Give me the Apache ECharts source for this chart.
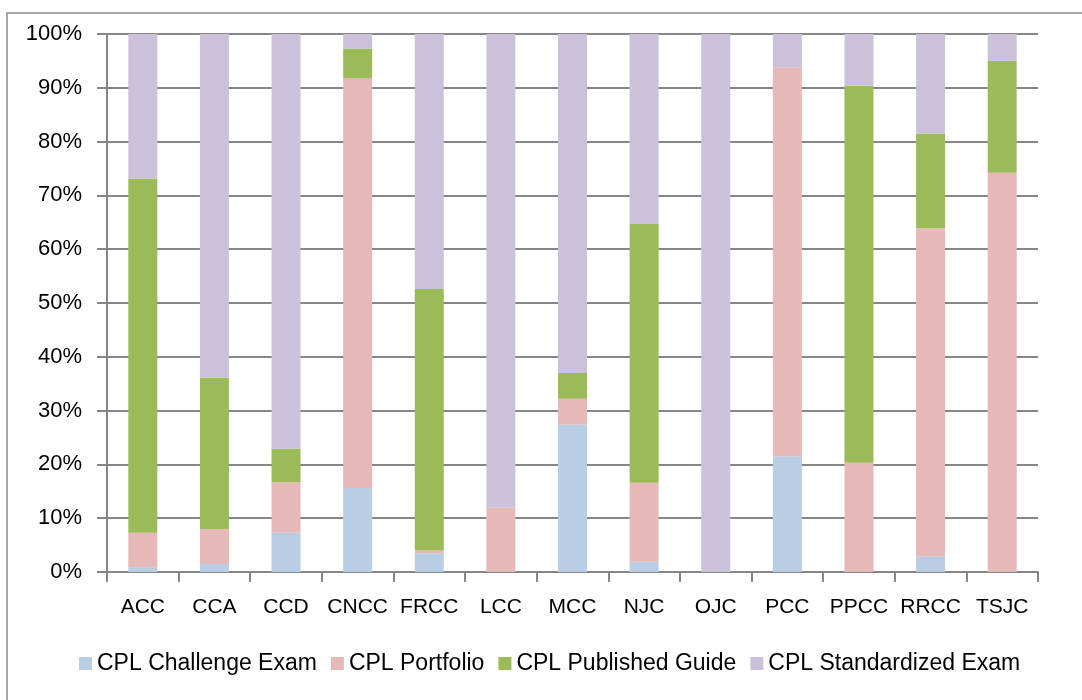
<!DOCTYPE html>
<html>
<head>
<meta charset="utf-8">
<script src="https://cdn.jsdelivr.net/npm/echarts@6/dist/echarts.min.js"></script>
<style>
  html, body { margin: 0; padding: 0; background: #fff; }
  #container { width: 1082px; height: 700px; }
</style>
</head>
<body>
<div id="container"></div>
<script type="text/javascript">
    // colleges
    var colleges = ['ACC', 'CCA', 'CCD', 'CNCC', 'FRCC', 'LCC', 'MCC', 'NJC', 'OJC', 'PCC', 'PPCC', 'RRCC', 'TSJC'];
    // share of each method, percent
    var challengeExam   = [0.9, 1.5, 7.3, 15.6, 3.5, 0, 27.4, 1.9, 0, 21.5, 0, 2.9, 0];
    var portfolio       = [6.4, 6.5, 9.4, 76.2, 0.5, 12.0, 4.8, 14.7, 0, 72.3, 20.3, 61.0, 74.2];
    var publishedGuide  = [65.8, 28.1, 6.2, 5.5, 48.6, 0, 4.8, 48.1, 0, 0, 70.1, 17.6, 20.8];
    var standardized    = [26.9, 63.9, 77.1, 2.7, 47.4, 88.0, 63.0, 35.3, 100, 6.2, 9.6, 18.5, 5.0];
    var seriesNames = ['CPL Challenge Exam', 'CPL Portfolio', 'CPL Published Guide', 'CPL Standardized Exam'];
    var colors = ['#B9CDE5', '#E6B9B8', '#9BBB59', '#CCC1DA'];

    var mychart = echarts.init(document.getElementById('container'));
    var font = '"Liberation Sans", Arial, sans-serif';

    function bar(name, data, color) {
        return {
            name: name,
            type: 'bar',
            stack: 'total',
            barWidth: 29,
            data: data,
            itemStyle: { color: color },
            emphasis: { disabled: true }
        };
    }

    var options = {
        animation: false,
        color: colors,
        graphic: [{
            type: 'rect',
            shape: { x: 7, y: 13, width: 1200, height: 900 },
            style: { fill: 'none', stroke: '#8c8c8c', lineWidth: 1.5 },
            z: -1
        }],
        grid: { left: 107, right: 44, top: 34, bottom: 128 },
        legend: {
            bottom: 20,
            left: 74,
            itemWidth: 13,
            itemHeight: 13,
            itemGap: 14,
            icon: 'rect',
            textStyle: { fontFamily: font, fontSize: 23, color: '#000' },
            data: seriesNames
        },
        xAxis: [{
            type: 'category',
            data: colleges,
            axisLine: { lineStyle: { color: '#868686', width: 2 } },
            axisTick: { show: true, length: 10, interval: 0, lineStyle: { color: '#868686', width: 2 } },
            axisLabel: { fontFamily: font, fontSize: 21, color: '#000', margin: 25, interval: 0 }
        }],
        yAxis: [{
            type: 'value',
            min: 0,
            max: 100,
            interval: 10,
            axisLine: { show: true, lineStyle: { color: '#868686', width: 2 } },
            axisTick: { show: true, length: 10, inside: false, lineStyle: { color: '#868686', width: 2 } },
            splitLine: { lineStyle: { color: '#868686', width: 2 } },
            axisLabel: { fontFamily: font, fontSize: 22, color: '#000', margin: 25, formatter: '{value}%' }
        }],
        series: [
            bar(seriesNames[0], challengeExam, colors[0]),
            bar(seriesNames[1], portfolio, colors[1]),
            bar(seriesNames[2], publishedGuide, colors[2]),
            bar(seriesNames[3], standardized, colors[3])
        ]
    };

    mychart.setOption(options);
</script>
</body>
</html>
